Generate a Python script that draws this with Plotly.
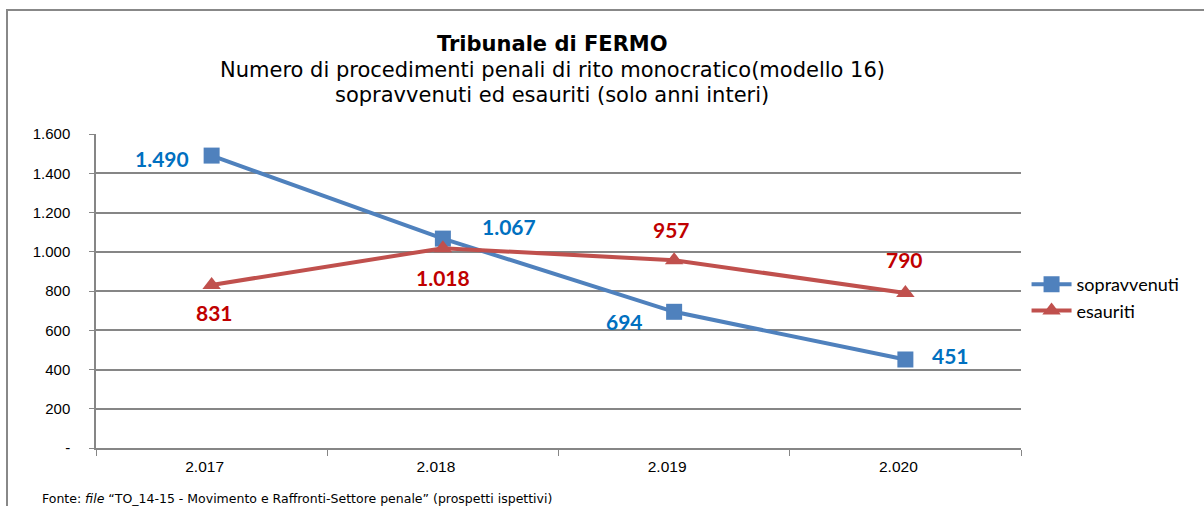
import plotly.graph_objects as go

years = ["2.017", "2.018", "2.019", "2.020"]
sopravvenuti = [1490, 1067, 694, 451]
esauriti = [831, 1018, 957, 790]
sopr_labels = ["1.490", "1.067", "694", "451"]
esau_labels = ["831", "1.018", "957", "790"]
y_tickvals = [0, 200, 400, 600, 800, 1000, 1200, 1400, 1600]
y_ticktext = ["-", "200", "400", "600", "800", "1.000", "1.200", "1.400", "1.600"]

BLUE = "#4F81BD"
RED = "#C0504D"
BLUE_T = "#0070C0"
RED_T = "#C00000"
GRID = "#868686"

fig = go.Figure()
fig.add_trace(go.Scatter(x=years, y=sopravvenuti, name="sopravvenuti", mode="lines+markers",
                         line=dict(color=BLUE, width=4),
                         marker=dict(symbol="square", size=16, color=BLUE)))
fig.add_trace(go.Scatter(x=years, y=esauriti, name="esauriti", mode="lines+markers",
                         line=dict(color=RED, width=4),
                         marker=dict(symbol="triangle-up", size=16, color=RED)))

annotations = []
s_shift = [(-50, -3), (66, 12), (-50, -10), (45, 4)]
e_shift = [(3, -28), (0, -29), (-3, 31), (-1, 33)]
for i, yr in enumerate(years):
    annotations.append(dict(x=i, y=sopravvenuti[i], text=sopr_labels[i], showarrow=False,
                            xshift=s_shift[i][0], yshift=s_shift[i][1],
                            font=dict(family="Lato", size=21, color=BLUE_T, weight="bold")))
    annotations.append(dict(x=i, y=esauriti[i], text=esau_labels[i], showarrow=False,
                            xshift=e_shift[i][0], yshift=e_shift[i][1],
                            font=dict(family="Lato", size=21, color=RED_T, weight="bold")))

# Titles
title_x = (552 - 96) / 925
annotations.append(dict(xref="paper", yref="paper", x=title_x, y=(448 - 44) / 314, yanchor="middle",
                        text="<b>Tribunale di FERMO</b>", showarrow=False,
                        font=dict(family="DejaVu Sans", size=21, color="black")))
annotations.append(dict(xref="paper", yref="paper", x=title_x, y=(448 - 70) / 314, yanchor="middle",
                        text="Numero di procedimenti penali di rito monocratico(modello 16)", showarrow=False,
                        font=dict(family="DejaVu Sans", size=21, color="black")))
annotations.append(dict(xref="paper", yref="paper", x=title_x, y=(448 - 95) / 314, yanchor="middle",
                        text="sopravvenuti ed esauriti (solo anni interi)", showarrow=False,
                        font=dict(family="DejaVu Sans", size=21, color="black")))
# Footer
annotations.append(dict(xref="paper", yref="paper", x=(40 - 96) / 925, y=(448 - 489) / 314,
                        xanchor="left", yanchor="top",
                        text="Fonte: <i>file</i> “TO_14-15 - Movimento e Raffronti-Settore penale” (prospetti ispettivi)",
                        showarrow=False, font=dict(family="DejaVu Sans", size=12.5, color="black")))

fig.update_layout(
    width=1204, height=506,
    margin=dict(l=96, r=183, t=134, b=58),
    paper_bgcolor="white", plot_bgcolor="white",
    showlegend=True,
    legend=dict(x=1.006, y=(448 - 266) / 314, xanchor="left", yanchor="top",
                font=dict(family="Lato", size=18, color="black"),
                bgcolor="rgba(0,0,0,0)", tracegroupgap=0, itemwidth=40),
    annotations=annotations,
    shapes=[dict(type="rect", xref="paper", yref="paper",
                 x0=(7 - 96) / 925, x1=1.5, y0=-0.5, y1=(448 - 10) / 314,
                 line=dict(color="#888888", width=2), layer="below")],
)
fig.update_xaxes(type="category", categoryorder="array", categoryarray=years,
                 showgrid=False, showline=True, linecolor=GRID, linewidth=1.5,
                 ticks="outside", ticklen=6, tickcolor=GRID, tickson="boundaries",
                 tickfont=dict(family="Liberation Sans", size=15.5, color="black"),
                 ticklabelstandoff=4, ticklabelshift=-7,
                 range=[-0.5, 3.5], fixedrange=True)
fig.update_yaxes(range=[0, 1600], tickvals=y_tickvals, ticktext=y_ticktext,
                 showgrid=True, gridcolor=GRID, gridwidth=1.5,
                 showline=True, linecolor=GRID, linewidth=1.5,
                 ticks="outside", ticklen=5, tickcolor=GRID,
                 tickfont=dict(family="Liberation Sans", size=15, color="black"),
                 ticklabelstandoff=16,
                 zeroline=False, fixedrange=True)

fig.write_html("out.html", config={"displayModeBar": False},
               post_script="document.body.style.margin='0';")
